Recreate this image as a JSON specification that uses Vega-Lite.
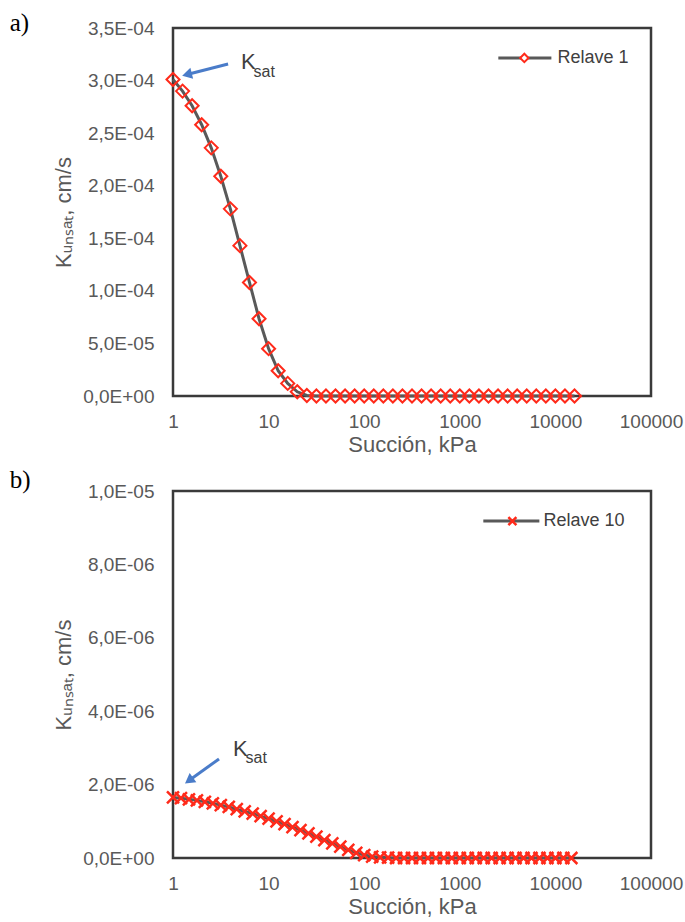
{
  "$schema": "https://vega.github.io/schema/vega-lite/v6.json",
  "padding": {"left": 8, "top": 9, "right": 0, "bottom": 0},
  "spacing": 9,
  "config": {
    "font": "Liberation Sans",
    "view": {"stroke": "#3a3a3a", "strokeWidth": 2.5},
    "axis": {"domain": false, "ticks": false, "grid": false, "labelFontSize": 19, "labelColor": "#595959", "titleFontSize": 22, "titleColor": "#595959", "titleFontWeight": "normal", "labelFlush": false}
  },
  "datasets": {
    "a": [
      {"x": 1, "k": 0.000301}, {"x": 1.2589, "k": 0.00029}, {"x": 1.5849, "k": 0.000276}, {"x": 1.9953, "k": 0.000258}, {"x": 2.5119, "k": 0.000236},
      {"x": 3.1623, "k": 0.000209}, {"x": 3.9811, "k": 0.000178}, {"x": 5.0119, "k": 0.000143}, {"x": 6.3096, "k": 0.000108}, {"x": 7.9433, "k": 0.0000735},
      {"x": 10, "k": 0.000045}, {"x": 12.589, "k": 0.000024}, {"x": 15.849, "k": 0.000012}, {"x": 19.953, "k": 0.000004}, {"x": 25.119, "k": 0.0000005},
      {"x": 31.623, "k": 0}, {"x": 39.811, "k": 0}, {"x": 50.119, "k": 0}, {"x": 63.096, "k": 0}, {"x": 79.433, "k": 0},
      {"x": 100, "k": 0}, {"x": 125.89, "k": 0}, {"x": 158.49, "k": 0}, {"x": 199.53, "k": 0}, {"x": 251.19, "k": 0},
      {"x": 316.23, "k": 0}, {"x": 398.11, "k": 0}, {"x": 501.19, "k": 0}, {"x": 630.96, "k": 0}, {"x": 794.33, "k": 0},
      {"x": 1000, "k": 0}, {"x": 1258.9, "k": 0}, {"x": 1584.9, "k": 0}, {"x": 1995.3, "k": 0}, {"x": 2511.9, "k": 0},
      {"x": 3162.3, "k": 0}, {"x": 3981.1, "k": 0}, {"x": 5011.9, "k": 0}, {"x": 6309.6, "k": 0}, {"x": 7943.3, "k": 0},
      {"x": 10000, "k": 0}, {"x": 12589, "k": 0}, {"x": 15849, "k": 0}
    ],
    "b": [
      {"x": 1, "k": 0.00000165}, {"x": 1.2115, "k": 0.00000163}, {"x": 1.4678, "k": 0.0000016}, {"x": 1.7783, "k": 0.00000157},
      {"x": 2.1544, "k": 0.00000153}, {"x": 2.6102, "k": 0.00000149}, {"x": 3.1623, "k": 0.00000144}, {"x": 3.8312, "k": 0.00000139},
      {"x": 4.6416, "k": 0.00000133}, {"x": 5.6234, "k": 0.00000127}, {"x": 6.8129, "k": 0.00000121}, {"x": 8.254, "k": 0.00000114},
      {"x": 10, "k": 0.00000107}, {"x": 12.115, "k": 0.000001}, {"x": 14.678, "k": 0.00000092}, {"x": 17.783, "k": 0.00000084},
      {"x": 21.544, "k": 0.00000076}, {"x": 26.102, "k": 0.00000067}, {"x": 31.623, "k": 0.00000058}, {"x": 38.312, "k": 0.00000049},
      {"x": 46.416, "k": 0.0000004}, {"x": 56.234, "k": 0.00000031}, {"x": 68.129, "k": 0.00000022}, {"x": 82.54, "k": 0.00000014},
      {"x": 100, "k": 0.00000008}, {"x": 121.15, "k": 0.00000004}, {"x": 146.78, "k": 0.00000002}, {"x": 177.83, "k": 0.00000001},
      {"x": 215.44, "k": 0}, {"x": 261.02, "k": 0}, {"x": 316.23, "k": 0}, {"x": 383.12, "k": 0},
      {"x": 464.16, "k": 0}, {"x": 562.34, "k": 0}, {"x": 681.29, "k": 0}, {"x": 825.4, "k": 0},
      {"x": 1000, "k": 0}, {"x": 1211.5, "k": 0}, {"x": 1467.8, "k": 0}, {"x": 1778.3, "k": 0},
      {"x": 2154.4, "k": 0}, {"x": 2610.2, "k": 0}, {"x": 3162.3, "k": 0}, {"x": 3831.2, "k": 0},
      {"x": 4641.6, "k": 0}, {"x": 5623.4, "k": 0}, {"x": 6812.9, "k": 0}, {"x": 8254, "k": 0},
      {"x": 10000, "k": 0}, {"x": 12115, "k": 0}, {"x": 14678, "k": 0}
    ]
  },
  "vconcat": [
    {
      "width": 478,
      "height": 368,
      "layer": [
        {"data": {"name": "a"}, "mark": {"type": "line", "color": "#595959", "strokeWidth": 3},
         "encoding": {
          "x": {"field": "x", "type": "quantitative", "scale": {"type": "log", "domain": [1, 100000], "nice": false},
                "axis": {"values": [1, 10, 100, 1000, 10000, 100000], "labelExpr": "format(datum.value, 'd')", "title": "Succión, kPa", "labelPadding": 16, "titlePadding": 3}},
          "y": {"field": "k", "type": "quantitative", "scale": {"domain": [0, 0.00035], "nice": false},
                "axis": {"values": [0, 0.00005, 0.0001, 0.00015, 0.0002, 0.00025, 0.0003, 0.00035], "labelExpr": "replace(replace(replace(format(datum.value, '.1e'), '.', ','), 'e-', 'E-0'), 'e+', 'E+0')", "title": "Kᵤₙₛₐₜ, cm/s", "labelPadding": 19, "titlePadding": 7}}
         }},
        {"data": {"name": "a"}, "mark": {"type": "point", "shape": "diamond", "size": 170, "strokeWidth": 2, "color": "#ff2a1a", "filled": false, "opacity": 1},
         "encoding": {"x": {"field": "x", "type": "quantitative"}, "y": {"field": "k", "type": "quantitative"}}},
        {"data": {"values": [{"n": 1}]}, "mark": {"type": "rule", "color": "#4a7cc9", "strokeWidth": 3},
         "encoding": {"x": {"datum": 3.77, "type": "quantitative"}, "y": {"datum": 0.0003158, "type": "quantitative"}, "x2": {"datum": 1.4}, "y2": {"datum": 0.0003058}}},
        {"data": {"values": [{"n": 1}]}, "mark": {"type": "point", "shape": "triangle-right", "angle": 166, "size": 130, "filled": true, "color": "#4a7cc9", "opacity": 1},
         "encoding": {"x": {"datum": 1.4, "type": "quantitative"}, "y": {"datum": 0.0003058, "type": "quantitative"}}},
        {"data": {"values": [{"n": 1}]}, "mark": {"type": "text", "align": "left", "baseline": "middle", "fontSize": 22, "color": "#404040"},
         "encoding": {"x": {"datum": 5.15, "type": "quantitative"}, "y": {"datum": 0.0003177, "type": "quantitative"}, "text": {"value": "K"}}},
        {"data": {"values": [{"n": 1}]}, "mark": {"type": "text", "align": "left", "baseline": "middle", "fontSize": 16, "color": "#404040"},
         "encoding": {"x": {"datum": 6.95, "type": "quantitative"}, "y": {"datum": 0.0003082, "type": "quantitative"}, "text": {"value": "sat"}}},
        {"data": {"values": [{"n": 1}]}, "mark": {"type": "rule", "color": "#595959", "strokeWidth": 3},
         "encoding": {"x": {"datum": 2529, "type": "quantitative"}, "x2": {"datum": 9078}, "y": {"datum": 0.0003215, "type": "quantitative"}}},
        {"data": {"values": [{"n": 1}]}, "mark": {"type": "point", "shape": "diamond", "size": 70, "strokeWidth": 2, "stroke": "#ff2a1a", "fill": "white", "filled": true, "opacity": 1},
         "encoding": {"x": {"datum": 4732, "type": "quantitative"}, "y": {"datum": 0.0003215, "type": "quantitative"}}},
        {"data": {"values": [{"n": 1}]}, "mark": {"type": "text", "align": "left", "baseline": "middle", "fontSize": 18, "color": "#404040"},
         "encoding": {"x": {"datum": 10494, "type": "quantitative"}, "y": {"datum": 0.0003215, "type": "quantitative"}, "text": {"value": "Relave 1"}}},
        {"data": {"values": [{"n": 1}]}, "mark": {"type": "text", "align": "left", "baseline": "middle", "fontSize": 25, "font": "Liberation Serif", "color": "black"},
         "encoding": {"x": {"datum": 0.0196, "type": "quantitative"}, "y": {"datum": 0.000355, "type": "quantitative"}, "text": {"value": "a)"}}}
      ]
    },
    {
      "width": 478,
      "height": 367,
      "layer": [
        {"data": {"name": "b"}, "mark": {"type": "line", "color": "#595959", "strokeWidth": 3},
         "encoding": {
          "x": {"field": "x", "type": "quantitative", "scale": {"type": "log", "domain": [1, 100000], "nice": false},
                "axis": {"values": [1, 10, 100, 1000, 10000, 100000], "labelExpr": "format(datum.value, 'd')", "title": "Succión, kPa", "labelPadding": 16, "titlePadding": 3}},
          "y": {"field": "k", "type": "quantitative", "scale": {"domain": [0, 0.00001], "nice": false},
                "axis": {"values": [0, 0.000002, 0.000004, 0.000006, 0.000008, 0.00001], "labelExpr": "replace(replace(replace(format(datum.value, '.1e'), '.', ','), 'e-', 'E-0'), 'e+', 'E+0')", "title": "Kᵤₙₛₐₜ, cm/s", "labelPadding": 19, "titlePadding": 7}}
         }},
        {"data": {"name": "b"}, "mark": {"type": "point", "shape": "M-1,-1L1,1M-1,1L1,-1", "size": 144, "strokeWidth": 2.5, "color": "#ff2a1a", "filled": false, "opacity": 1},
         "encoding": {"x": {"field": "x", "type": "quantitative"}, "y": {"field": "k", "type": "quantitative"}}},
        {"data": {"values": [{"n": 1}]}, "mark": {"type": "rule", "color": "#4a7cc9", "strokeWidth": 3},
         "encoding": {"x": {"datum": 3.03, "type": "quantitative"}, "y": {"datum": 0.0000027, "type": "quantitative"}, "x2": {"datum": 1.47}, "y2": {"datum": 0.00000211}}},
        {"data": {"values": [{"n": 1}]}, "mark": {"type": "point", "shape": "triangle-right", "angle": 144, "size": 130, "filled": true, "color": "#4a7cc9", "opacity": 1},
         "encoding": {"x": {"datum": 1.47, "type": "quantitative"}, "y": {"datum": 0.00000211, "type": "quantitative"}}},
        {"data": {"values": [{"n": 1}]}, "mark": {"type": "text", "align": "left", "baseline": "middle", "fontSize": 22, "color": "#404040"},
         "encoding": {"x": {"datum": 4.25, "type": "quantitative"}, "y": {"datum": 0.00000297, "type": "quantitative"}, "text": {"value": "K"}}},
        {"data": {"values": [{"n": 1}]}, "mark": {"type": "text", "align": "left", "baseline": "middle", "fontSize": 16, "color": "#404040"},
         "encoding": {"x": {"datum": 5.75, "type": "quantitative"}, "y": {"datum": 0.00000272, "type": "quantitative"}, "text": {"value": "sat"}}},
        {"data": {"values": [{"n": 1}]}, "mark": {"type": "rule", "color": "#595959", "strokeWidth": 3},
         "encoding": {"x": {"datum": 1762, "type": "quantitative"}, "x2": {"datum": 6795}, "y": {"datum": 0.00000918, "type": "quantitative"}}},
        {"data": {"values": [{"n": 1}]}, "mark": {"type": "point", "shape": "M-1,-1L1,1M-1,1L1,-1", "size": 64, "strokeWidth": 2.5, "color": "#ff2a1a", "filled": false, "opacity": 1},
         "encoding": {"x": {"datum": 3548, "type": "quantitative"}, "y": {"datum": 0.00000918, "type": "quantitative"}}},
        {"data": {"values": [{"n": 1}]}, "mark": {"type": "text", "align": "left", "baseline": "middle", "fontSize": 18, "color": "#404040"},
         "encoding": {"x": {"datum": 7486, "type": "quantitative"}, "y": {"datum": 0.00000918, "type": "quantitative"}, "text": {"value": "Relave 10"}}},
        {"data": {"values": [{"n": 1}]}, "mark": {"type": "text", "align": "left", "baseline": "middle", "fontSize": 25, "font": "Liberation Serif", "color": "black"},
         "encoding": {"x": {"datum": 0.0196, "type": "quantitative"}, "y": {"datum": 0.0000103, "type": "quantitative"}, "text": {"value": "b)"}}}
      ]
    }
  ]
}
